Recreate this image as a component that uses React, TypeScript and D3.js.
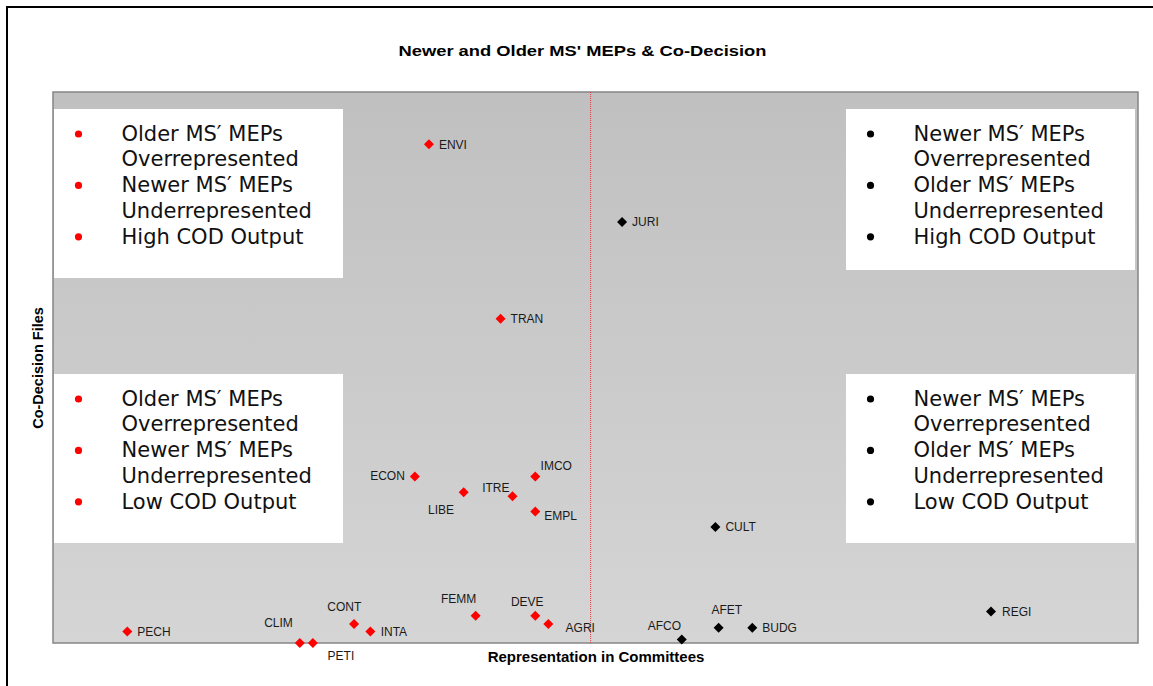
import React from "react";
import * as d3 from "d3";

// ---- data ----
const committees = ["ENVI", "JURI", "TRAN", "ECON", "IMCO", "LIBE", "ITRE", "EMPL", "CULT", "REGI", "FEMM", "DEVE", "AGRI", "CONT", "AFET", "BUDG", "PECH", "INTA", "AFCO", "CLIM", "PETI"];
const representation = [-14.9, 2.9, -8.3, -16.2, -5.1, -11.7, -7.2, -5.1, 11.5, 36.9, -10.6, -5.1, -3.9, -21.8, 11.8, 14.9, -42.7, -20.3, 8.4, -26.8, -25.6];
const codFiles = [126.7, 107, 82.4, 42.3, 42.3, 38.3, 37.3, 33.4, 29.5, 8.0, 6.9, 6.9, 4.8, 4.8, 3.9, 3.9, 2.9, 2.9, 0.9, 0, 0];
const xDomain = [-49.55, 50.45];
const yDomain = [0, 140];
const divider = 0;

const title = "Newer and Older MS' MEPs & Co-Decision";
const xTitle = "Representation in Committees";
const yTitle = "Co-Decision Files";

const boxTopLeft = ["Older MS\u2032 MEPs", "Overrepresented", "Newer MS\u2032 MEPs", "Underrepresented", "High COD Output"];
const boxTopRight = ["Newer MS\u2032 MEPs", "Overrepresented", "Older MS\u2032 MEPs", "Underrepresented", "High COD Output"];
const boxBottomLeft = ["Older MS\u2032 MEPs", "Overrepresented", "Newer MS\u2032 MEPs", "Underrepresented", "Low COD Output"];
const boxBottomRight = ["Newer MS\u2032 MEPs", "Overrepresented", "Older MS\u2032 MEPs", "Underrepresented", "Low COD Output"];

// label placement (style): dx, dy, anchor
const labelPos: Record<string, [number, number, string]> = {
  ENVI: [10, 4.3, "start"],
  JURI: [10, 4.3, "start"],
  TRAN: [10, 4.3, "start"],
  ECON: [-10, 3.5, "end"],
  LIBE: [-9.7, 21.7, "end"],
  ITRE: [-3, -4.3, "end"],
  IMCO: [5.3, -7, "start"],
  EMPL: [9, 8.5, "start"],
  CULT: [10, 4.3, "start"],
  REGI: [11, 4.3, "start"],
  FEMM: [0.7, -12.7, "end"],
  DEVE: [-8, -9.4, "middle"],
  AGRI: [17.3, 8, "start"],
  CONT: [-9.8, -13, "middle"],
  AFET: [8.2, -13.7, "middle"],
  BUDG: [10, 4.3, "start"],
  PECH: [10, 4.3, "start"],
  INTA: [10.3, 4.3, "start"],
  AFCO: [-0.7, -9, "end"],
  CLIM: [-7, -15.7, "end"],
  PETI: [14.7, 17, "start"],
};

export default function App() {
  const W = 1153, H = 686;
  const plot = { left: 53, top: 92, right: 1138, bottom: 643 };
  const x = d3.scaleLinear().domain(xDomain).range([plot.left, plot.right]);
  const y = d3.scaleLinear().domain(yDomain).range([plot.bottom, plot.top]);
  const diamond = d3.symbol().type(d3.symbolSquare).size(50)() as string;

  const boxes = [
    { lines: boxTopLeft, x: 54, y: 109, w: 289, h: 169, color: "#ff0000" },
    { lines: boxTopRight, x: 846, y: 109, w: 289, h: 161, color: "#000000" },
    { lines: boxBottomLeft, x: 54, y: 374, w: 289, h: 169, color: "#ff0000" },
    { lines: boxBottomRight, x: 846, y: 374, w: 289, h: 169, color: "#000000" },
  ];

  const labelFont = "'Liberation Sans', Arial, sans-serif";

  return (
    <svg width={W} height={H} style={{ position: "absolute", left: 0, top: 0, background: "#fff" }}>
      <defs>
        <linearGradient id="bg" x1="0" y1="0" x2="0" y2="1">
          <stop offset="0" stopColor="#c0c0c0" />
          <stop offset="1" stopColor="#d5d5d5" />
        </linearGradient>
      </defs>
      <rect x={0} y={0} width={W} height={H} fill="#fff" />
      <rect x={7} y={7} width={1200} height={800} fill="none" stroke="#000" strokeWidth={2} />
      <text x={582.5} y={56} textAnchor="middle" fontFamily={labelFont} fontWeight="bold" fontSize={15.5}
        textLength={368} lengthAdjust="spacingAndGlyphs" fill="#000">{title}</text>

      <rect x={plot.left} y={plot.top} width={plot.right - plot.left} height={plot.bottom - plot.top}
        fill="url(#bg)" stroke="#858585" strokeWidth={1.5} />

      {boxes.map((b, i) => (
        <g key={i}>
          <rect x={b.x} y={b.y} width={b.w} height={b.h} fill="#fff" />
          {b.lines.map((t, j) => (
            <g key={j}>
              {j % 2 === 0 && <circle cx={b.x + 24.5} cy={b.y + 25 + j * 25.7} r={3.6} fill={b.color} />}
              <text x={b.x + 67.5} y={b.y + 31.7 + j * 25.7} fontFamily="'DejaVu Sans', Verdana, sans-serif"
                fontSize={21} fill="#111">{t}</text>
            </g>
          ))}
        </g>
      ))}

      <line x1={x(divider)} x2={x(divider)} y1={plot.top} y2={plot.bottom} stroke="#e8202a"
        strokeWidth={1} strokeDasharray="1,1" opacity={0.85} />

      {committees.map((c, i) => {
        const px = x(representation[i]);
        const py = y(codFiles[i]);
        const col = representation[i] < divider ? "#ff0000" : "#000000";
        const lp = labelPos[c] || [10, 4.3, "start"];
        return (
          <g key={c}>
            <path d={diamond} transform={`translate(${px},${py}) rotate(45)`} fill={col} />
            <text x={px + lp[0]} y={py + lp[1]} textAnchor={lp[2] as any} fontFamily={labelFont}
              fontSize={12} fill="#1a1a1a">{c}</text>
          </g>
        );
      })}

      <text x={596} y={662} textAnchor="middle" fontFamily={labelFont} fontWeight="bold" fontSize={15}
        fill="#000">{xTitle}</text>
      <text transform={`translate(43,368) rotate(-90)`} textAnchor="middle" fontFamily={labelFont}
        fontWeight="bold" fontSize={14.5} fill="#000">{yTitle}</text>
    </svg>
  );
}
